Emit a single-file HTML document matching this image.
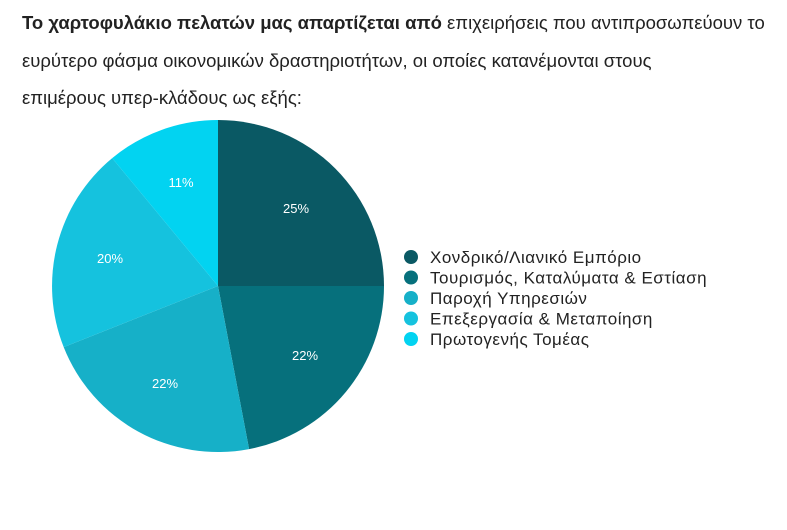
<!DOCTYPE html>
<html><head><meta charset="utf-8"><style>
body{margin:0;width:787px;height:530px;background:#fff;overflow:hidden;font-family:"Liberation Sans","DejaVu Sans",sans-serif}
.p{position:absolute;left:22px;top:4px;width:780px;font-size:18.5px;line-height:37.5px;color:#222;white-space:nowrap}
</style></head><body>
<div class="p"><b>Το χαρτοφυλάκιο πελατών μας απαρτίζεται από</b> επιχειρήσεις που αντιπροσωπεύουν το<br>ευρύτερο φάσμα οικονομικών δραστηριοτήτων, οι οποίες κατανέμονται στους<br>επιμέρους υπερ-κλάδους ως εξής:</div>
<svg width="787" height="530" style="position:absolute;left:0;top:0">
<path d="M218,286 L218,120 A166,166 0 0 1 384,286 Z" fill="#0a5964"/>
<path d="M218,286 L384,286 A166,166 0 0 1 249.1,449.1 Z" fill="#06707c"/>
<path d="M218,286 L249.1,449.1 A166,166 0 0 1 63.7,347.1 Z" fill="#16b0c8"/>
<path d="M218,286 L63.7,347.1 A166,166 0 0 1 112.2,158.1 Z" fill="#15c2de"/>
<path d="M218,286 L112.2,158.1 A166,166 0 0 1 218,120 Z" fill="#02d3f1"/>
<g font-size="13" fill="#fff" text-anchor="middle" font-family="Liberation Sans,sans-serif">
<text x="296" y="213">25%</text><text x="305" y="360">22%</text><text x="165" y="388">22%</text><text x="110" y="263">20%</text><text x="181" y="187">11%</text>
</g>
<g font-size="17" fill="#222" letter-spacing="0.5">
<circle cx="411" cy="257" r="7" fill="#0a5964"/><text x="430" y="263">Χονδρικό/Λιανικό Εμπόριο</text>
<circle cx="411" cy="277.5" r="7" fill="#06707c"/><text x="430" y="283.5">Τουρισμός, Καταλύματα &amp; Εστίαση</text>
<circle cx="411" cy="298" r="7" fill="#16b0c8"/><text x="430" y="304">Παροχή Υπηρεσιών</text>
<circle cx="411" cy="318.5" r="7" fill="#15c2de"/><text x="430" y="324.5">Επεξεργασία &amp; Μεταποίηση</text>
<circle cx="411" cy="339" r="7" fill="#02d3f1"/><text x="430" y="345">Πρωτογενής Τομέας</text>
</g>
</svg>
</body></html>
